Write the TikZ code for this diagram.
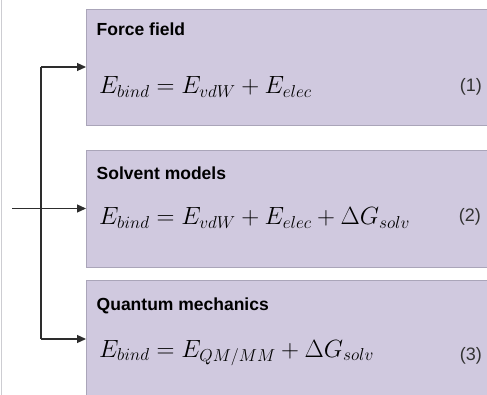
\documentclass[tikz,border=0pt]{standalone}
\usepackage{fontspec}
\setmainfont{Liberation Sans}
\usetikzlibrary{arrows.meta}
\definecolor{boxfill}{RGB}{208,201,223}
\definecolor{boxline}{RGB}{170,165,185}
\definecolor{conn}{RGB}{45,45,45}
\definecolor{edge}{RGB}{205,205,210}
\tikzset{
  panel/.style={draw=boxline, line width=0.8pt, fill=boxfill, anchor=north west,
    minimum width=420pt, inner sep=0pt, outer sep=0pt},
  ttl/.style={anchor=base west, inner sep=0pt, font=\fontsize{17.5}{20}\selectfont\bfseries},
  eqn/.style={anchor=base west, inner sep=0pt, font=\fontsize{23.8}{28}\selectfont},
  num/.style={anchor=base east, inner sep=0pt, font=\fontsize{18}{21}\selectfont, text=black!80},
  arr/.style={draw=conn, line width=1.2pt, -{Triangle[length=9pt,width=8pt]}},
  ln/.style={draw=conn, line width=1.2pt}
}
\begin{document}
\begin{tikzpicture}[x=1pt,y=-1pt]
\path[use as bounding box, fill=white] (0,0) rectangle (487,395);
\draw[edge, line width=1pt] (1.5,0) -- (1.5,395);
% boxes
\node[panel, minimum height=116pt] (b1) at (86,9) {};
\node[panel, minimum height=117pt] (b2) at (86,150) {};
\node[panel, minimum height=118pt] (b3) at (86,280) {};
% titles
\node[ttl] (t1) at (96.5,35.5) {Force field};
\node[ttl] (t2) at (96.5,180) {Solvent models};
\node[ttl] (t3) at (96.5,310.5) {Quantum mechanics};
% equations
\node[eqn] (e1) at (99,94) {$E_{bind}=E_{vdW}+E_{elec}$};
\node[eqn] (e2) at (99,225) {$E_{bind}=E_{vdW}+E_{elec}+\Delta G_{solv}$};
\node[eqn] (e3) at (99,357) {$E_{bind}=E_{QM/MM}+\Delta G_{solv}$};
% numbers
\node[num] (n1) at (482,92) {(1)};
\node[num] (n2) at (481,222) {(2)};
\node[num] (n3) at (482,360) {(3)};
% connectors
\coordinate (src) at (12,0);
\coordinate (trunk) at (41,0);
\draw[ln] (b1.west -| trunk) -- (b3.west -| trunk);
\draw[arr] (b1.west -| trunk) -- (b1.west);
\draw[arr] (b3.west -| trunk) -- (b3.west);
\draw[arr] (b2.west -| src) -- (b2.west);
\end{tikzpicture}
\end{document}
